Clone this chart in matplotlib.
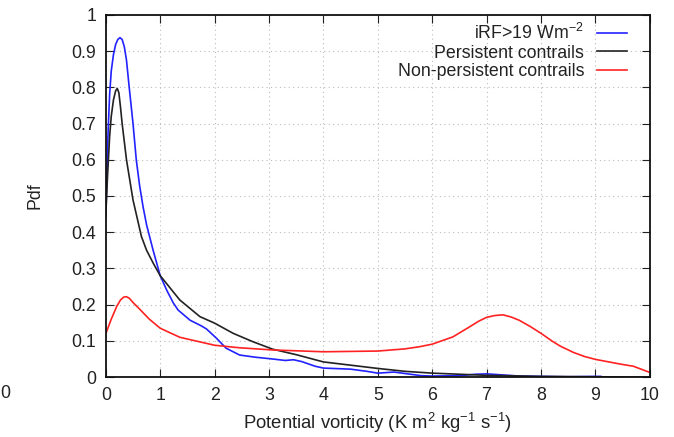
import numpy as np
import matplotlib
matplotlib.use("Agg")
import matplotlib.pyplot as plt

plt.rcParams["font.family"] = ["Liberation Sans", "DejaVu Sans"]
plt.rcParams["mathtext.fontset"] = "custom"
plt.rcParams["mathtext.rm"] = "Liberation Sans"
plt.rcParams["mathtext.it"] = "Liberation Sans:italic"

# Curvas (x = vorticidade potencial, y = pdf)
x_irf = [0, 0.02, 0.04, 0.07, 0.1, 0.14, 0.18, 0.22, 0.26, 0.3, 0.34, 0.38, 0.43,
         0.5, 0.56, 0.62, 0.685, 0.75, 0.87, 1.0, 1.12, 1.24, 1.33, 1.55, 1.75,
         1.85, 2.03, 2.21, 2.46, 2.75, 3.07, 3.3, 3.45, 3.6, 3.85, 4.0, 4.5, 4.8,
         5.0, 5.3, 5.5, 5.8, 6.0, 6.5, 6.8, 7.0, 7.3, 7.6, 8.0, 8.5, 9.0, 9.1]
y_irf = [0.44, 0.56, 0.67, 0.78, 0.845, 0.89, 0.918, 0.932, 0.937, 0.932, 0.912, 0.875, 0.80,
         0.70, 0.60, 0.53, 0.47, 0.42, 0.35, 0.28, 0.24, 0.205, 0.185, 0.157, 0.142,
         0.133, 0.108, 0.080, 0.061, 0.055, 0.050, 0.046, 0.048, 0.043, 0.030, 0.025, 0.022, 0.016,
         0.011, 0.014, 0.010, 0.004, 0.003, 0.004, 0.008, 0.009, 0.006, 0.003, 0.002, 0.001, 0.002, 0.002]

x_pers = [0, 0.03, 0.07, 0.1, 0.14, 0.18, 0.21, 0.24, 0.27, 0.3, 0.38, 0.5, 0.655,
          0.75, 0.87, 1.0, 1.36, 1.73, 2.0, 2.34, 2.7, 3.07, 3.5, 4.0, 4.5, 5.0,
          5.5, 6.0, 6.5, 7.0, 8.0, 9.0, 10.0]
y_pers = [0.45, 0.55, 0.664, 0.72, 0.765, 0.79, 0.797, 0.785, 0.745, 0.70, 0.60, 0.489, 0.388,
          0.35, 0.315, 0.28, 0.213, 0.167, 0.149, 0.121, 0.098, 0.077, 0.062, 0.042, 0.033, 0.024,
          0.016, 0.011, 0.008, 0.005, 0.002, 0.001, 0.0]

x_nonp = [0, 0.1, 0.2, 0.27, 0.33, 0.38, 0.43, 0.5, 0.62, 0.8, 1.0, 1.36, 2.0,
          2.46, 3.07, 4.0, 5.0, 5.5, 5.77, 6.0, 6.38, 6.69, 6.85, 7.0, 7.15, 7.3,
          7.45, 7.6, 7.8, 8.0, 8.2, 8.35, 8.6, 8.8, 9.0, 9.46, 9.7, 10.0]
y_nonp = [0.12, 0.16, 0.195, 0.213, 0.221, 0.222, 0.218, 0.206, 0.188, 0.16, 0.135, 0.11, 0.088,
          0.081, 0.075, 0.07, 0.072, 0.078, 0.084, 0.091, 0.111, 0.139, 0.154, 0.165, 0.170, 0.172,
          0.166, 0.157, 0.140, 0.121, 0.100, 0.086, 0.068, 0.057, 0.049, 0.036, 0.030, 0.013]

fig = plt.figure(figsize=(6.74, 4.37), dpi=100)
ax = fig.add_axes([0.157, 0.137, 0.807, 0.829])

ax.plot(x_irf, y_irf, color="#2222ff", lw=1.2, label="iRF>19 Wm$^{-2}$")
ax.plot(x_pers, y_pers, color="#222222", lw=1.2, label="Persistent contrails")
ax.plot(x_nonp, y_nonp, color="#ff2222", lw=1.2, label="Non-persistent contrails")

ax.set_xlim(0, 10)
ax.set_ylim(0, 1)
ax.set_xticks(range(0, 11))
ax.set_yticks(np.arange(0, 1.01, 0.1))
ax.set_yticklabels(["0", "0.1", "0.2", "0.3", "0.4", "0.5", "0.6", "0.7", "0.8", "0.9", "1"])
ax.tick_params(direction="in", top=True, right=True, length=6, width=0.8,
               labelsize=12.8, colors="#222222", pad=7)
ax.grid(True, linestyle=(0, (1, 3)), color="#bbbbbb", lw=0.8)
for s in ax.spines.values():
    s.set_linewidth(1.3)
    s.set_color("#111111")

ax.set_xlabel("Potential vorticity (K m$^{2}$ kg$^{-1}$ s$^{-1}$)", fontsize=13.3,
              color="#222222", labelpad=5)
ax.set_ylabel("Pdf", fontsize=12.8, color="#222222", labelpad=20)

leg = ax.legend(loc="upper right", frameon=False, fontsize=12.8, markerfirst=False,
                handlelength=1.7, handletextpad=0.7, labelspacing=0.1,
                borderaxespad=0.0, bbox_to_anchor=(0.971, 0.998))
for t in leg.get_texts():
    t.set_ha("right")
    t.set_color("#222222")

fig.text(0.0, 0.1, "0", fontsize=12.8, color="#222222", va="center")

fig.savefig("out.png", dpi=100)
